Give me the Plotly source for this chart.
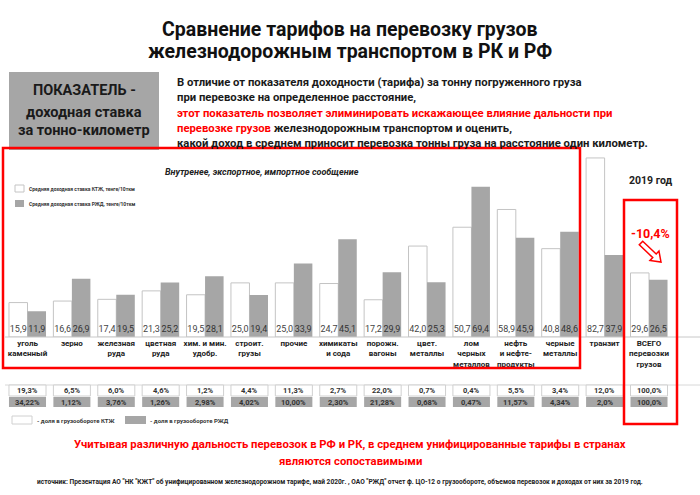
import math
import plotly.graph_objects as go

# data
categories = [
    "уголь<br>каменный", "зерно", "железная<br>руда", "цветная<br>руда",
    "хим. и мин.<br>удобр.", "строит.<br>грузы", "прочие", "химикаты<br>и сода",
    "порожн.<br>вагоны", "цвет.<br>металлы", "лом<br>черных<br>металлов",
    "нефть<br>и нефте-<br>продукты", "черные<br>металлы", "транзит",
    "ВСЕГО<br>перевозки<br>грузов",
]
rate_ktz = [15.9, 16.6, 17.4, 21.3, 19.5, 25.0, 25.0, 24.7, 17.2, 42.0, 50.7, 58.9, 40.8, 82.7, 29.6]
rate_rzd = [11.9, 26.9, 19.5, 25.2, 28.1, 19.4, 33.9, 45.1, 29.9, 25.3, 69.4, 45.9, 48.6, 37.9, 26.5]
share_ktz = ["19,3%", "6,5%", "6,0%", "4,6%", "1,2%", "4,4%", "11,3%", "2,7%",
             "22,0%", "0,7%", "0,4%", "5,5%", "3,4%", "12,0%", "100,0%"]
share_rzd = ["34,22%", "1,12%", "3,76%", "1,26%", "2,98%", "4,02%", "10,00%", "2,30%",
             "21,28%", "0,68%", "0,47%", "11,57%", "4,34%", "2,0%", "100,0%"]
total_change = "-10,4%"

W, H = 700, 495
GRAY = "#a6a6a6"
RED = "#ff0000"
FONT = "Roboto"
NARROW = "Liberation Sans Narrow, Roboto"


def px(x):
    return x / W


def py(y):
    return 1 - y / H


def fmt(v):
    return f"{v:.1f}".replace(".", ",")


def label(x, y, text, size, color="#1a1a1a", xanchor="center", xref="paper"):
    # explicit anchors, otherwise plotly picks them by position
    return dict(x=x, y=y, xref=xref, yref="paper", text=text, showarrow=False,
                xanchor=xanchor, yanchor="middle",
                font=dict(family=FONT, size=size, color=color, weight=700))


fig = go.Figure()

fig.add_trace(go.Bar(
    x=categories, y=rate_ktz, name="КТЖ",
    marker=dict(color="white", line=dict(color="#c4c4c4", width=1)),
    text=[fmt(v) for v in rate_ktz], textposition="inside", insidetextanchor="start",
    constraintext="none", textangle=0,
    insidetextfont=dict(family=NARROW, size=9, color="#444"),
))
fig.add_trace(go.Bar(
    x=categories, y=rate_rzd, name="РЖД",
    marker=dict(color=GRAY, line=dict(width=0)),
    text=[fmt(v) for v in rate_rzd], textposition="inside", insidetextanchor="start",
    constraintext="none", textangle=0,
    insidetextfont=dict(family=NARROW, size=9, color="#333"),
))

shapes = []
ann = []

# baseline and table line
shapes.append(dict(type="line", xref="paper", yref="paper", x0=px(5), x1=1,
                   y0=py(337), y1=py(337), line=dict(color="#c8c8c8", width=1)))
shapes.append(dict(type="line", xref="paper", yref="paper", x0=px(5), x1=1,
                   y0=py(385), y1=py(385), line=dict(color="#d8d8d8", width=1)))

# share table cells
half = 0.417
for i in range(len(categories)):
    shapes.append(dict(type="rect", xref="x", yref="paper", x0=i - half, x1=i + half,
                       y0=py(396), y1=py(385), fillcolor="white",
                       line=dict(color="#d0d0d0", width=1)))
    shapes.append(dict(type="rect", xref="x", yref="paper", x0=i - half, x1=i + half,
                       y0=py(407), y1=py(397), fillcolor=GRAY, line=dict(width=0)))
    ann.append(label(i, py(390.5), share_ktz[i], 7.5, "#333", xref="x"))
    ann.append(label(i, py(402), share_rzd[i], 7.5, "#333", xref="x"))

# grey box on the left
shapes.append(dict(type="rect", xref="paper", yref="paper", x0=px(9), x1=px(159),
                   y0=py(150), y1=py(72), fillcolor=GRAY, line=dict(width=0)))
for txt, yy in [("ПОКАЗАТЕЛЬ -", 91), ("доходная ставка", 112), ("за тонно-километр", 131)]:
    ann.append(label(px(84), py(yy), txt, 14.5))

# red frames
shapes.append(dict(type="rect", xref="paper", yref="paper", x0=px(3), x1=px(580),
                   y0=py(368), y1=py(148), line=dict(color=RED, width=2.5)))
shapes.append(dict(type="rect", xref="paper", yref="paper", x0=px(624), x1=px(677),
                   y0=py(424), y1=py(200), line=dict(color=RED, width=2.5)))

# hollow arrow next to the total
tx, ty, hx, hy = 641, 243, 661, 262
L = math.hypot(hx - tx, hy - ty)
ux, uy = (hx - tx) / L, (hy - ty) / L
nx, ny = -uy, ux
sw, hw, hl = 2.5, 6.5, 9


def pt(a, b):
    return f"{px(tx + ux * a + nx * b):.5f},{py(ty + uy * a + ny * b):.5f}"


path = "M " + " L ".join([pt(0, -sw), pt(L - hl, -sw), pt(L - hl, -hw), pt(L, 0),
                          pt(L - hl, hw), pt(L - hl, sw), pt(0, sw)]) + " Z"
shapes.append(dict(type="path", xref="paper", yref="paper", path=path,
                   fillcolor="white", line=dict(color=RED, width=1.5)))

# top legend
shapes.append(dict(type="rect", xref="paper", yref="paper", x0=px(15), x1=px(24),
                   y0=py(192), y1=py(185), fillcolor="white", line=dict(color="#c4c4c4", width=1)))
shapes.append(dict(type="rect", xref="paper", yref="paper", x0=px(15), x1=px(24),
                   y0=py(207), y1=py(200), fillcolor=GRAY, line=dict(width=0)))
ann.append(label(px(27), py(188.5), "Средняя доходная ставка КТЖ, тенге/10ткм", 5, "#333", "left"))
ann.append(label(px(27), py(203.5), "Средняя доходная ставка РЖД, тенге/10ткм", 5, "#333", "left"))

# bottom legend
shapes.append(dict(type="rect", xref="paper", yref="paper", x0=px(12), x1=px(32),
                   y0=py(424), y1=py(416), fillcolor="white", line=dict(color="#d0d0d0", width=1)))
shapes.append(dict(type="rect", xref="paper", yref="paper", x0=px(125), x1=px(146),
                   y0=py(424), y1=py(416), fillcolor=GRAY, line=dict(width=0)))
ann.append(label(px(35), py(420), "- доля в грузообороте КТЖ", 6, "#333", "left"))
ann.append(label(px(148), py(420), "- доля в грузообороте РЖД", 6, "#333", "left"))

# titles and texts
ann.append(label(0.5, py(29), "Сравнение тарифов на перевозку грузов", 19.5, "#111"))
ann.append(label(0.5, py(51), "железнодорожным транспортом в РК и РФ", 19.5, "#111"))

red = f"<span style='color:{RED}'>"
lines = [
    ("В отличие от показателя доходности (тарифа) за тонну погруженного груза", 83),
    ("при перевозке на определенное расстояние,", 98),
    (red + "этот показатель позволяет элиминировать искажающее влияние дальности при</span>", 113),
    (red + "перевозке грузов</span> железнодорожным транспортом и оценить,", 128),
    ("какой доход в среднем приносит перевозка тонны груза на расстояние один километр.", 143),
]
for txt, yy in lines:
    ann.append(label(px(175), py(yy), txt, 11.3, "#1a1a1a", "left"))

ann.append(label(px(262), py(172), "<i>Внутренее, экспортное, импортное сообщение</i>", 9, "#222"))
ann.append(label(px(651), py(180), "2019 год", 10.5, "#222"))
ann.append(label(px(650), py(234), total_change, 12.5, RED))

ann.append(label(0.5, py(444),
                 "Учитывая различную дальность перевозок в РФ и РК, в среднем унифицированные тарифы в странах",
                 11.3, RED))
ann.append(label(0.5, py(461), "являются сопоставимыми", 11.3, RED))
ann.append(label(px(340), py(482),
                 "источник: Презентация АО \"НК \"КЖТ\" об унифицированном железнодорожном тарифе, май 2020г. , "
                 "ОАО \"РЖД\" отчет ф. ЦО-12 о грузообороте, объемов перевозок и доходах от них за 2019 год.",
                 6.6, "#222"))

fig.update_layout(
    width=W, height=H,
    margin=dict(l=0, r=0, t=0, b=0),
    paper_bgcolor="white", plot_bgcolor="white",
    barmode="group", bargap=0.166, bargroupgap=0,
    showlegend=False,
    shapes=shapes, annotations=ann,
    xaxis=dict(domain=[px(5.3), px(671.2)], range=[-0.5, 14.5], showgrid=False,
               showline=False, ticks="", tickangle=0,
               tickfont=dict(family=FONT, size=8, color="#222", weight=700)),
    yaxis=dict(domain=[py(337), py(120.5)], range=[0, 100], visible=False),
)

fig.write_html("out.html", config={"displayModeBar": False},
               post_script="document.body.style.margin='0';")
